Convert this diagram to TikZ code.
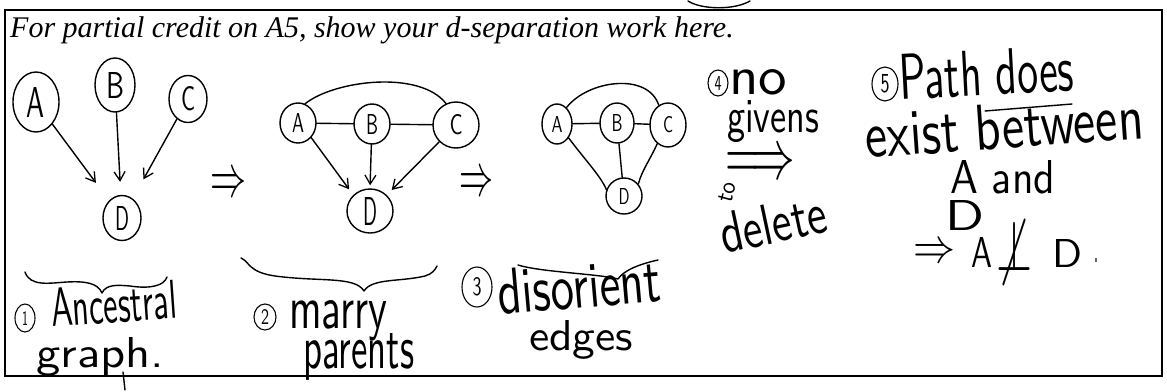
\documentclass[tikz,border=0pt]{standalone}
\usepackage{fontspec}
\setmainfont{Liberation Serif}
\usetikzlibrary{arrows.meta,shapes.geometric}

% handwritten word: box of given width and height (above baseline)
\newcommand{\hw}[3]{\resizebox{#1}{#2}{\sffamily #3}}

\tikzset{
  ink/.style={line width=1.4pt, line cap=round, line join=round},
  gnode/.style={ellipse, draw, ink, inner sep=0pt},
  hand/.style={inner sep=0pt, anchor=base west},
  numc/.style={ellipse, draw, line width=1.1pt, inner sep=0pt},
  arr/.style={ink, -{Straight Barb[length=9pt,width=11pt,line width=1.3pt]}},
  link/.style={ink},
}

\begin{document}
\begin{tikzpicture}[x=1pt,y=-1pt]
\useasboundingbox (0,0) rectangle (1167,391);

% frame and heading
\draw[line width=2.6pt] (5,10) rectangle (1162,376);
\draw[ink] (688,1) .. controls (702,10) and (735,10) .. (750,1);
\node[inner sep=0pt, anchor=base west, font=\itshape\fontsize{30}{30}\selectfont] (title) at (10,37)
  {For partial credit on A5, show your d-separation work here.};

% ---- graph 1: ancestral graph
\node[gnode, minimum width=46pt, minimum height=60pt] (A1) at (36,102) {\hw{18pt}{30pt}{A}};
\node[gnode, minimum width=40pt, minimum height=54pt] (B1) at (115,85) {\hw{18pt}{26pt}{B}};
\node[gnode, minimum width=38pt, minimum height=47pt] (C1) at (188,99) {\hw{14pt}{24pt}{C}};
\node[gnode, minimum width=38pt, minimum height=45pt] (D1) at (122,218) {\hw{14pt}{24pt}{D}};
\draw[arr, shorten >=22pt] (A1) -- (D1);
\draw[arr, shorten >=13pt] (B1) -- (D1);
\draw[arr, shorten >=22pt] (C1) -- (D1);

\node[inner sep=0pt] (imp1) at (228,185) {\resizebox{36pt}{22pt}{$\Rightarrow$}};

% ---- graph 2: marry parents
\node[gnode, minimum width=36pt, minimum height=40pt] (A2) at (298,123) {\hw{12pt}{19pt}{A}};
\node[gnode, minimum width=36pt, minimum height=40pt] (B2) at (372,124) {\hw{12pt}{20pt}{B}};
\node[gnode, minimum width=46pt, minimum height=46pt] (C2) at (456,125) {\hw{13pt}{20pt}{C}};
\node[gnode, minimum width=46pt, minimum height=44pt] (D2) at (370,211) {\hw{14pt}{28pt}{D}};
\draw[link] (A2) -- (B2);
\draw[link] (B2) -- (C2);
\draw[link] (A2.70) .. controls (335,80) and (420,70) .. (C2.115);
\draw[arr, shorten >=7pt] (A2.south east) -- (D2.north west);
\draw[arr, shorten >=3pt] (B2) -- (D2.north);
\draw[arr, shorten >=7pt] (C2.south west) -- (D2.north east);

\node[inner sep=0pt] (imp2) at (476,184) {\resizebox{34pt}{22pt}{$\Rightarrow$}};

% ---- graph 3: disorient edges
\node[gnode, minimum width=30pt, minimum height=40pt] (A3) at (557,124) {\hw{11pt}{16pt}{A}};
\node[gnode, minimum width=34pt, minimum height=40pt] (B3) at (617,123) {\hw{11pt}{17pt}{B}};
\node[gnode, minimum width=36pt, minimum height=44pt] (C3) at (668,125) {\hw{10pt}{16pt}{C}};
\node[gnode, minimum width=36pt, minimum height=36pt] (D3) at (624,196) {\hw{11pt}{16pt}{D}};
\draw[link] (A3) -- (B3);
\draw[link] (B3) -- (C3);
\draw[link] (A3.60) .. controls (588,80) and (648,72) .. (C3.115);
\draw[link] (A3.-50) .. controls (585,160) and (600,175) .. (D3.160);
\draw[link] (B3) -- (D3);
\draw[link] (C3.-120) .. controls (650,160) and (642,170) .. (D3.40);

% ---- step labels under the graphs
\draw[ink] (25,272) .. controls (30,287) and (50,283) .. (67,282)
  .. controls (85,281) and (98,283) .. (102,293)
  .. controls (106,284) and (118,285) .. (130,286)
  .. controls (150,289) and (164,286) .. (167,277);
\node[numc, minimum width=20pt, minimum height=28pt] (n1) at (25,318) {\hw{6pt}{14pt}{1}};
\node[hand, rotate=4] (w1a) at (52,327) {\hw{126pt}{38pt}{Ancestral}};
\node[hand] (w1b) at (36,367) {\hw{128pt}{30pt}{graph.}};
\draw[ink] (123,372) -- (125,390);

\draw[ink] (241,258) .. controls (250,262) and (248,272) .. (275,276)
  .. controls (320,282) and (355,276) .. (364,291)
  .. controls (372,278) and (400,282) .. (425,276)
  .. controls (432,274) and (435,270) .. (437,266);
\node[numc, minimum width=22pt, minimum height=26pt] (n2) at (265,317) {\hw{8pt}{15pt}{2}};
\node[hand] (w2a) at (289,328) {\hw{98pt}{28pt}{marry}};
\node[hand] (w2b) at (303,368) {\hw{111pt}{35pt}{parents}};

\draw[ink] (518,265) .. controls (540,272) and (600,274) .. (618,279)
  .. controls (624,270) and (640,264) .. (658,260);
\node[numc, minimum width=30pt, minimum height=40pt] (n3) at (477,287) {\hw{9pt}{18pt}{3}};
\node[hand, rotate=5] (w3a) at (499,315) {\hw{164pt}{45pt}{disorient}};
\node[hand] (w3b) at (529,350) {\hw{104pt}{30pt}{edges}};

% ---- step 4
\node[numc, minimum width=20pt, minimum height=26pt] (n4) at (718,83) {\hw{7pt}{14pt}{4}};
\node[hand] (w4a) at (729,94) {\hw{58pt}{25pt}{no}};
\node[hand] (w4b) at (727,132) {\hw{92pt}{32pt}{givens}};
\node[inner sep=0pt] (imp4) at (760,165) {\resizebox{70pt}{26pt}{$\Longrightarrow$}};
\node[inner sep=0pt, rotate=75] (w4c) at (727,192) {\hw{20pt}{14pt}{to}};
\node[hand, rotate=12] (w4d) at (724,254) {\hw{108pt}{40pt}{delete}};

% ---- step 5
\node[numc, minimum width=26pt, minimum height=34pt] (n5) at (885,84) {\hw{9pt}{18pt}{5}};
\node[hand, rotate=3] (w5a) at (900,100) {\hw{175pt}{45pt}{Path does}};
\draw[ink] (985,111) -- (1072,104);
\node[hand, rotate=4] (w5b) at (866,158) {\hw{279pt}{45pt}{exist between}};
\node[hand] (w5c) at (950,193) {\hw{105pt}{33pt}{A and}};
\node[hand] (w5d) at (945,230) {\hw{39pt}{30pt}{D}};
\node[inner sep=0pt] (imp5) at (934,253) {\resizebox{42pt}{18pt}{$\Rightarrow$}};
\node[hand] (w5e) at (971,267) {\hw{21pt}{30pt}{A}};
\node[inner sep=0pt] (nind) at (1014,252) {\resizebox{36pt}{50pt}{$\not\perp$}};
\node[hand] (w5f) at (1052,267) {\hw{30pt}{28pt}{D}};
\node[hand] (w5g) at (1094,262) {\hw{4pt}{4pt}{.}};

\end{tikzpicture}
\end{document}
